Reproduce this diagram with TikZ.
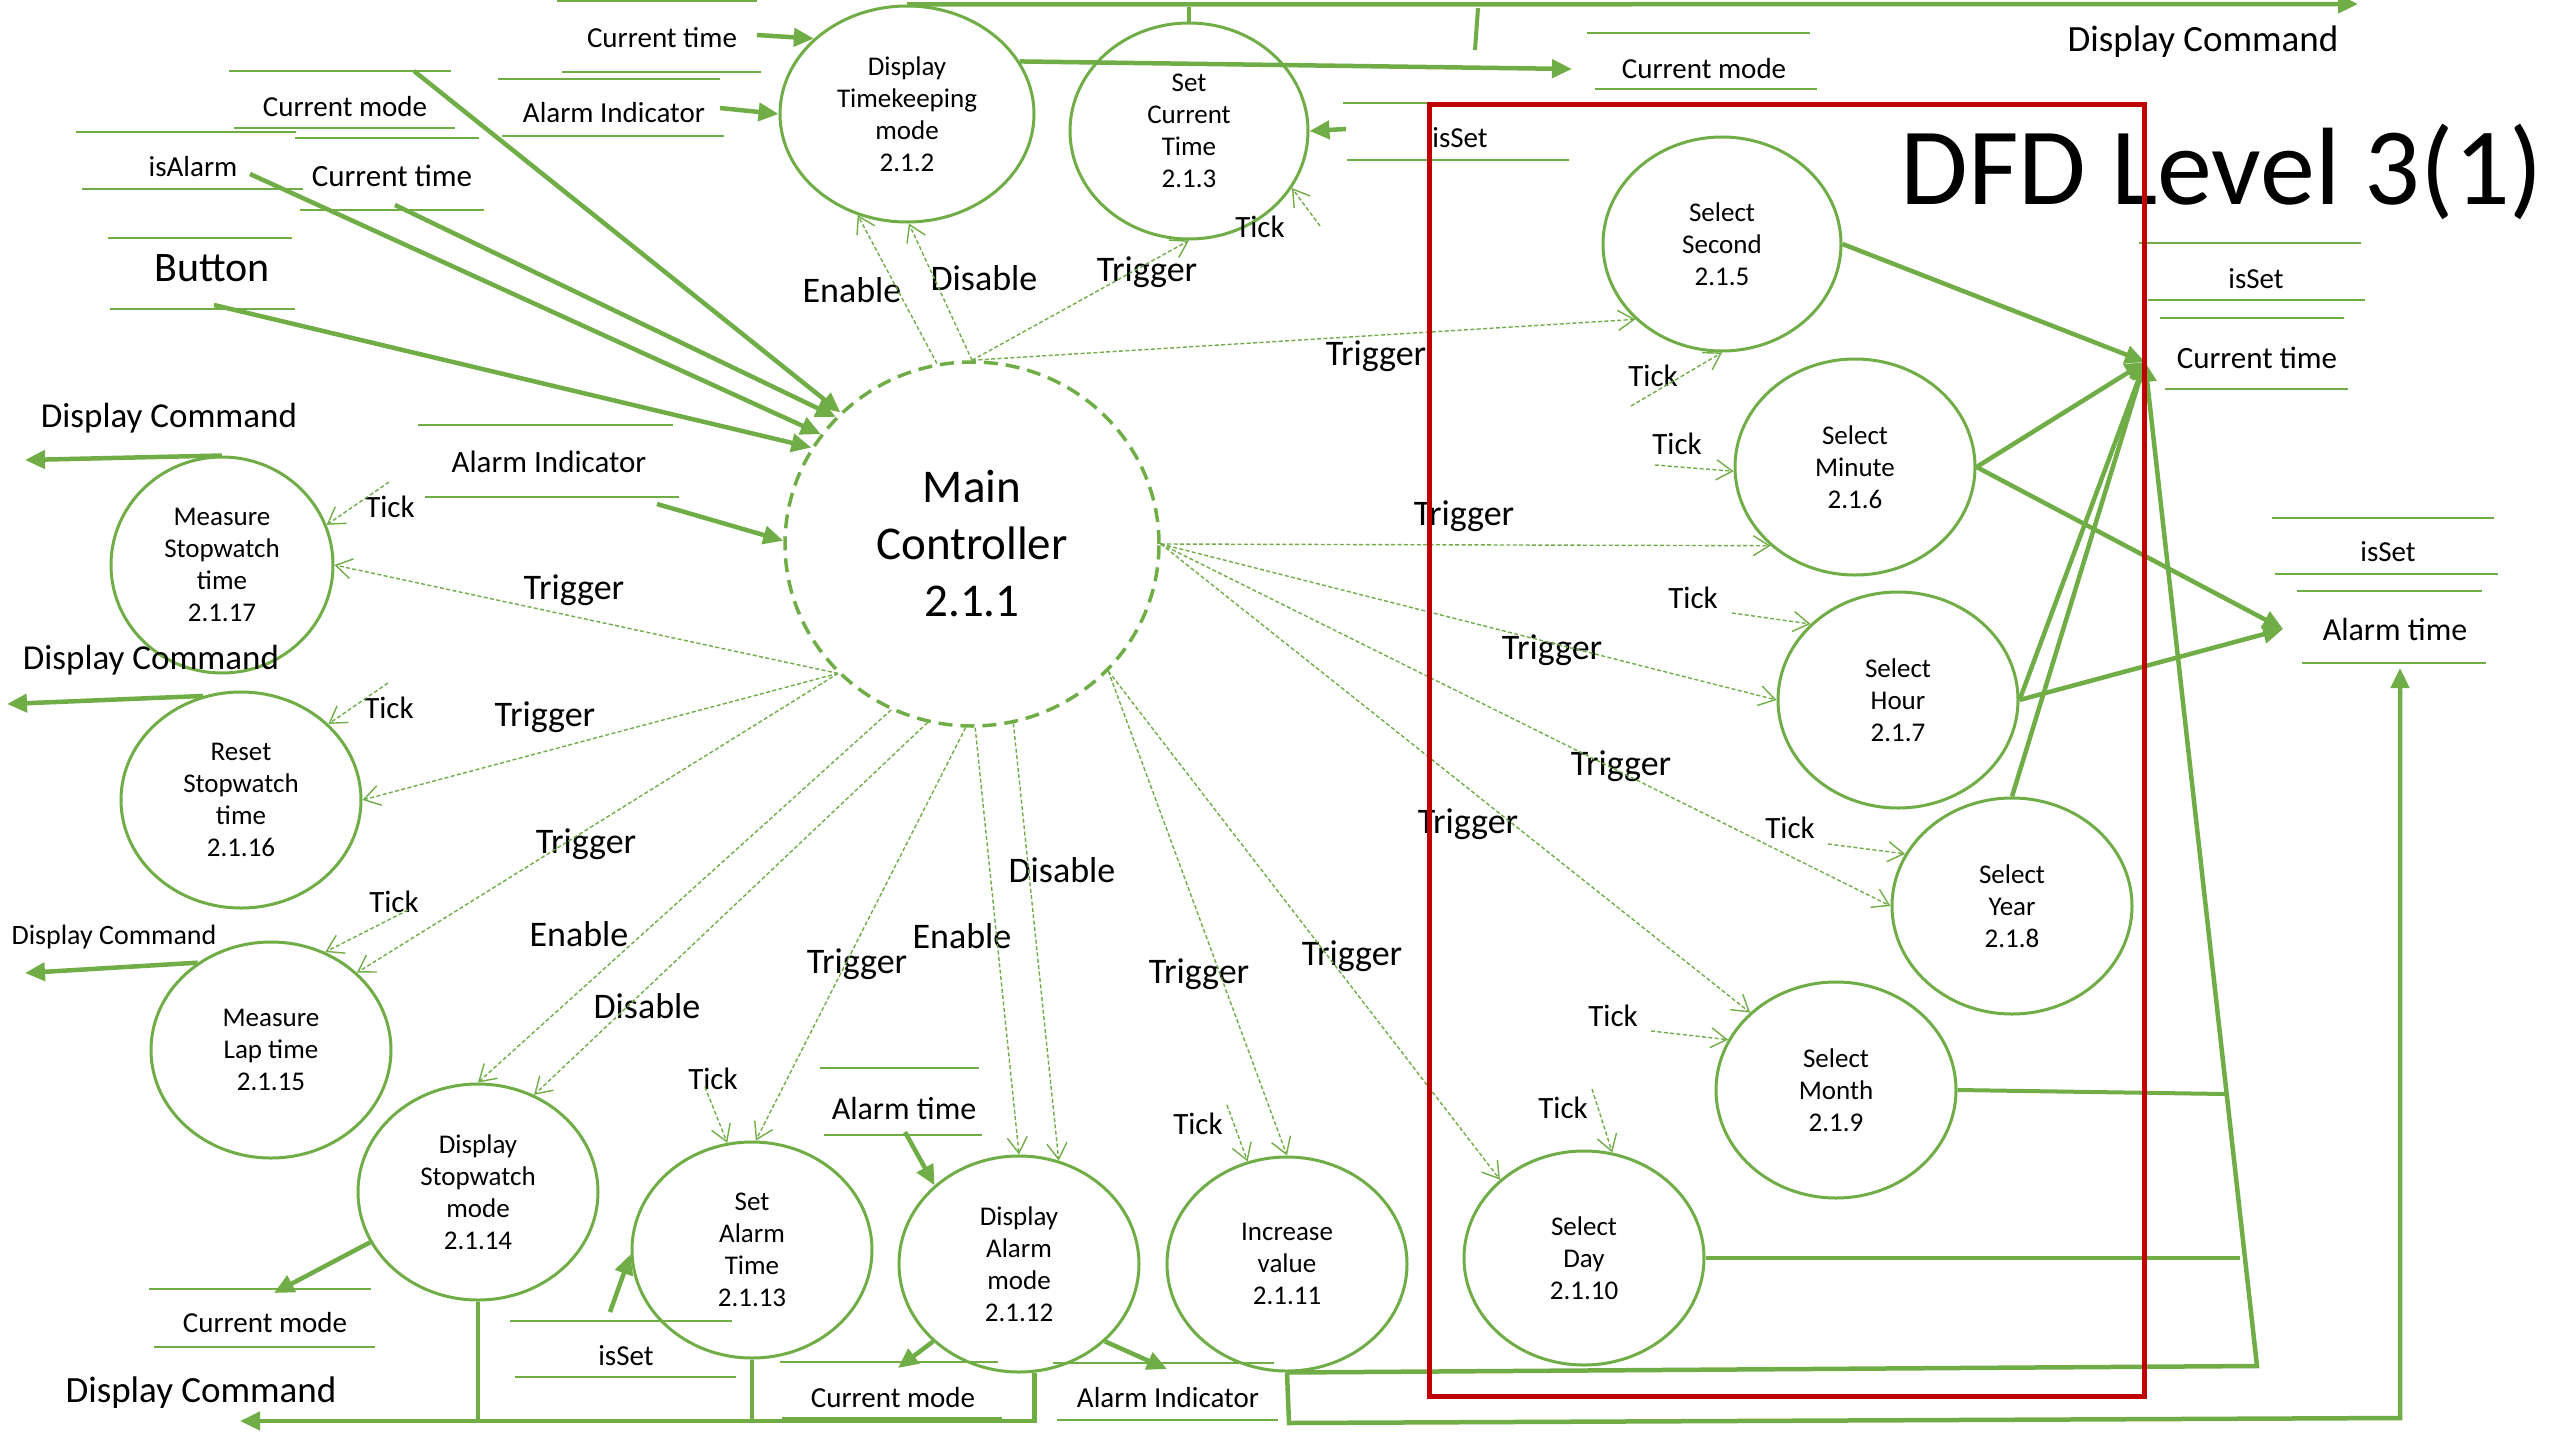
\documentclass[tikz,border=0pt]{standalone}
\usepackage{fontspec}
\setmainfont{Carlito}
\usetikzlibrary{shapes.geometric,arrows.meta}
\definecolor{dg}{HTML}{70AD47}
\definecolor{dred}{HTML}{C00000}
\begin{document}
\begin{tikzpicture}[x=0.5pt,y=-0.5pt,
  proc/.style={ellipse, draw=dg, line width=1.5pt, inner sep=0pt, align=center,
    font=\fontsize{13.5}{16}\selectfont, minimum width=120pt, minimum height=108pt},
  flow/.style={draw=dg, line width=2.25pt, -{Triangle[length=10pt,width=9pt]}},
  bare/.style={draw=dg, line width=2pt},
  ctrl/.style={draw=dg, line width=0.7pt, dash pattern=on 2pt off 1.2pt,
    -{Straight Barb[length=8pt,width=10pt,line width=0.7pt]}},
  store/.style={draw=dg, line width=1.1pt},
  lbl/.style={inner sep=0pt, font=\fontsize{14.5}{17}\selectfont},
  lblb/.style={inner sep=0pt, font=\fontsize{15.5}{18}\selectfont},
  trg/.style={inner sep=0pt, font=\fontsize{18}{21}\selectfont},
  cmd/.style={inner sep=0pt, font=\fontsize{17.5}{21}\selectfont}]
\useasboundingbox[fill=white] (0,0) rectangle (2560,1440);

% ---------- processes ----------
\node[proc, minimum width=127pt] (e212) at (907,114) {Display\\Timekeeping\\mode\\2.1.2};
\node[proc, minimum width=119pt] (e213) at (1189,131) {Set\\Current\\Time\\2.1.3};
\node[proc, minimum width=187pt, minimum height=182pt, line width=1.75pt,
      dash pattern=on 7pt off 4pt, font=\fontsize{23.5}{28.5}\selectfont] (main) at (972,544) {Main\\Controller\\2.1.1};
\node[proc, minimum width=119pt, minimum height=107pt] (e215) at (1722,244) {Select\\Second\\2.1.5};
\node[proc] (e216) at (1855,467) {Select\\Minute\\2.1.6};
\node[proc] (e217) at (1898,700) {Select\\Hour\\2.1.7};
\node[proc] (e218) at (2012,906) {Select\\Year\\2.1.8};
\node[proc] (e219) at (1836,1090) {Select\\Month\\2.1.9};
\node[proc, minimum height=107pt] (e2110) at (1584,1258) {Select\\Day\\2.1.10};
\node[proc, minimum height=107pt] (e2111) at (1287,1264) {Increase\\value\\2.1.11};
\node[proc] (e2112) at (1019,1264) {Display\\Alarm\\mode\\2.1.12};
\node[proc] (e2113) at (752,1250) {Set\\Alarm\\Time\\2.1.13};
\node[proc] (e2114) at (478,1192) {Display\\Stopwatch\\mode\\2.1.14};
\node[proc] (e2115) at (271,1050) {Measure\\Lap time\\2.1.15};
\node[proc] (e2116) at (241,800) {Reset\\Stopwatch\\time\\2.1.16};
\node[proc, minimum width=111pt] (e2117) at (222,565) {Measure\\Stopwatch\\time\\2.1.17};

% ---------- labels ----------
\node[lbl] (l1) at (662,38) {Current time};
\node[lbl] (l2) at (614,113) {Alarm Indicator};
\node[lbl] (l3) at (345,107) {Current mode};
\node[lbl] (l4) at (193,167) {isAlarm};
\node[lblb] (l5) at (392,176) {Current time};
\node[inner sep=0pt, font=\fontsize{21}{25}\selectfont] (l6) at (212,268) {Button};
\node[cmd] (l7) at (169,418) {Display Command};
\node[lblb] (l8) at (549,462) {Alarm Indicator};
\node[lblb] (l9) at (390,507) {Tick};
\node[trg] (l10) at (574,590) {Trigger};
\node[cmd] (l11) at (151,660) {Display Command};
\node[lblb] (l12) at (389,708) {Tick};
\node[trg] (l13) at (545,717) {Trigger};
\node[inner sep=0pt, font=\fontsize{14}{17}\selectfont] (l14) at (114,937) {Display Command};
\node[lblb] (l15) at (394,902) {Tick};
\node[trg] (l16) at (586,844) {Trigger};
\node[trg] (l17) at (579,934) {Enable};
\node[trg] (l18) at (647,1006) {Disable};
\node[trg] (l19) at (857,964) {Trigger};
\node[trg] (l20) at (962,936) {Enable};
\node[trg] (l21) at (1062,870) {Disable};
\node[lblb] (l22) at (713,1079) {Tick};
\node[inner sep=0pt, font=\fontsize{16}{19}\selectfont] (l23) at (904,1108) {Alarm time};
\node[lblb] (l24) at (1198,1124) {Tick};
\node[trg] (l25) at (1199,974) {Trigger};
\node[trg] (l26) at (1352,956) {Trigger};
\node[lbl] (l27) at (265,1323) {Current mode};
\node[lbl] (l28) at (626,1356) {isSet};
\node[inner sep=0pt, font=\fontsize{18.5}{22}\selectfont] (l29) at (201,1393) {Display Command};
\node[lbl] (l30) at (893,1398) {Current mode};
\node[lbl] (l31) at (1168,1398) {Alarm Indicator};
\node[trg] (l32) at (852,290) {Enable};
\node[trg] (l33) at (984,278) {Disable};
\node[trg] (l34) at (1147,272) {Trigger};
\node[lblb] (l35) at (1260,227) {Tick};
\node[lbl] (l36) at (1460,138) {isSet};
\node[lbl] (l37) at (1704,69) {Current mode};
\node[inner sep=0pt, font=\fontsize{18.5}{22}\selectfont] (l38) at (2203,42) {Display Command};
\node[anchor=base west, inner sep=0pt, font=\fontsize{55}{66}\selectfont] (title) at (1900,204) {DFD Level 3(1)};
\node[trg] (l39) at (1376,356) {Trigger};
\node[lblb] (l40) at (1653,376) {Tick};
\node[lblb] (l41) at (1677,444) {Tick};
\node[trg] (l42) at (1464,516) {Trigger};
\node[lblb] (l43) at (1693,598) {Tick};
\node[trg] (l44) at (1552,650) {Trigger};
\node[lblb] (l45) at (1790,828) {Tick};
\node[trg] (l46) at (1621,766) {Trigger};
\node[trg] (l47) at (1468,824) {Trigger};
\node[lblb] (l48) at (1613,1016) {Tick};
\node[lblb] (l49) at (1563,1108) {Tick};
\node[lbl] (l50) at (2256,279) {isSet};
\node[lblb] (l51) at (2257,358) {Current time};
\node[lbl] (l52) at (2388,552) {isSet};
\node[inner sep=0pt, font=\fontsize{16}{19}\selectfont] (l53) at (2395,630) {Alarm time};

% ---------- store lines ----------
\draw[store] (557,1) -- (757,1);
\draw[store] (562,72) -- (761,72);
\draw[store] (498,79) -- (720,79);
\draw[store] (502,136) -- (724,136);
\draw[store] (229,71) -- (451,71);
\draw[store] (234,128) -- (455,128);
\draw[store] (76,132) -- (296,132);
\draw[store] (295,138) -- (479,138);
\draw[store] (82,189) -- (303,189);
\draw[store] (300,210) -- (484,210);
\draw[store] (108,238) -- (292,238);
\draw[store] (110,309) -- (295,309);
\draw[store] (418,425) -- (673,425);
\draw[store] (425,497) -- (679,497);
\draw[store] (1343,103) -- (1428,103);
\draw[store] (1347,160) -- (1569,160);
\draw[store] (1587,33) -- (1810,33);
\draw[store] (1595,89) -- (1817,89);
\draw[store] (2139,243) -- (2361,243);
\draw[store] (2148,300) -- (2365,300);
\draw[store] (2160,318) -- (2344,318);
\draw[store] (2165,389) -- (2348,389);
\draw[store] (2272,518) -- (2494,518);
\draw[store] (2275,574) -- (2498,574);
\draw[store] (2297,591) -- (2482,591);
\draw[store] (2302,663) -- (2486,663);
\draw[store] (820,1068) -- (979,1068);
\draw[store] (824,1135) -- (982,1135);
\draw[store] (149,1289) -- (371,1289);
\draw[store] (154,1347) -- (375,1347);
\draw[store] (510,1321) -- (732,1321);
\draw[store] (515,1377) -- (736,1377);
\draw[store] (780,1362) -- (998,1362);
\draw[store] (782,1418) -- (1002,1418);
\draw[store] (1053,1363) -- (1274,1363);
\draw[store] (1057,1420) -- (1278,1420);

% ---------- free ends ----------
\coordinate (f1) at (414,71);
\coordinate (f2) at (250,174);
\coordinate (f3) at (395,205);
\coordinate (f4) at (214,305);
\coordinate (f5) at (657,504);
\coordinate (f6) at (757,35);
\coordinate (f7) at (720,108);
\coordinate (f8) at (1572,69);
\coordinate (f9) at (2358,4);
\coordinate (f10) at (1189,7);
\coordinate (f11a) at (1478,8);
\coordinate (f11b) at (1475,50);
\coordinate (f12) at (1346,129);
\coordinate (f13) at (25,460);
\coordinate (f14) at (7,704);
\coordinate (f15) at (25,973);
\coordinate (f16) at (274,1293);
\coordinate (f17) at (610,1312);
\coordinate (f18) at (905,1132);
\coordinate (f19) at (898,1368);
\coordinate (f20) at (1167,1369);
\coordinate (f21) at (240,1421);
\coordinate (g1) at (1289,1423);
\coordinate (g2) at (2400,1418);
\coordinate (g3) at (2400,668);
\coordinate (h1) at (2257,1366);
\coordinate (ct) at (2145,362);
\coordinate (at) at (2283,629);
\coordinate (m1) at (2225,1094);
\coordinate (d1) at (2240,1258);

% ---------- data flows ----------
\draw[flow] (f1) -- (main.135);
\draw[flow] (f3) -- (main.137);
\draw[flow] (f2) -- (main.144);
\draw[flow] (f4) -- (main.149);
\draw[flow] (f5) -- (main.179);
\draw[flow] (f6) -- (e212.141);
\draw[flow] (f7) -- (e212.180);
\draw[flow] (e212.25) -- (f8);
\draw[flow] (e212.north) -- (f9);
\draw[bare] (e213.north) -- (f10);
\draw[bare] (f11a) -- (f11b);
\draw[flow] (f12) -- (e213.east);
\draw[flow] (e2117.north) -- (f13);
\draw[flow] (e2116.110) -- (f14);
\draw[flow] (e2115.130) -- (f15);
\draw[flow] (e2114.205) -- (f16);
\draw[flow] (f17) -- (e2113.182);
\draw[flow] (f18) -- (e2112.137);
\draw[flow] (e2112.222) -- (f19);
\draw[flow] (e2112.318) -- (f20);
\draw[flow] (e2112.278) |- (f21);
\draw[bare] (e2114.south) -- (e2114.south |- f21);
\draw[bare] (e2113.south) -- (e2113.south |- f21);
\draw[flow] (e2111.south) -- (g1) -- (g2) -- (g3);
\draw[flow] (e2111.south) -- (h1) -- (ct);
\draw[flow] (e215.east) -- (ct);
\draw[flow] (e216.east) -- (ct);
\draw[flow] (e216.east) -- (at);
\draw[flow] (e217.east) -- (ct);
\draw[flow] (e217.east) -- (at);
\draw[flow] (e218.north) -- (ct);
\draw[bare] (e219.east) -- (m1);
\draw[bare] (e2110.east) -- (d1);

% ---------- control flows ----------
\draw[ctrl] (main.224) -- (e2117.east);
\draw[ctrl] (main.224) -- (e2116.east);
\draw[ctrl] (main.224) -- (e2115.42);
\draw[ctrl] (main.244) -- (e2114.north);
\draw[ctrl] (main.256) -- (e2114.60);
\draw[ctrl] (main.268) -- (e2113.88);
\draw[ctrl] (main.271) -- (e2112.north);
\draw[ctrl] (main.283) -- (e2112.69);
\draw[ctrl] (main.317) -- (e2111.north);
\draw[ctrl] (main.317) -- (e2110.137);
\draw[ctrl] (main.0) -- (e216.223);
\draw[ctrl] (main.0) -- (e217.180);
\draw[ctrl] (main.0) -- (e218.180);
\draw[ctrl] (main.0) -- (e219.138);
\draw[ctrl] (main.90) -- (e215.221);
\draw[ctrl] (main.90) -- (e213.south);
\draw[ctrl] (main.90) -- (e212.271);
\draw[ctrl] (main.101) -- (e212.244);

% ---------- ticks ----------
\coordinate (t1) at (1320,226);
\coordinate (t2) at (1631,406);
\coordinate (t3) at (1655,465);
\coordinate (t4) at (1732,613);
\coordinate (t5) at (1828,844);
\coordinate (t6) at (1651,1031);
\coordinate (t7) at (1592,1089);
\coordinate (t8) at (1227,1105);
\coordinate (t9) at (705,1087);
\coordinate (t10) at (408,910);
\coordinate (t11) at (388,683);
\coordinate (t12) at (389,482);
\draw[ctrl] (t1) -- (e213.331);
\draw[ctrl] (t2) -- (e215.south);
\draw[ctrl] (t3) -- (e216.182);
\draw[ctrl] (t4) -- (e217.139);
\draw[ctrl] (t5) -- (e218.154);
\draw[ctrl] (t6) -- (e219.155);
\draw[ctrl] (t7) -- (e2110.75);
\draw[ctrl] (t8) -- (e2111.111);
\draw[ctrl] (t9) -- (e2113.103);
\draw[ctrl] (t10) -- (e2115.61);
\draw[ctrl] (t11) -- (e2116.41);
\draw[ctrl] (t12) -- (e2117.21);

% ---------- red frame ----------
\draw[dred, line width=2.5pt] (1429,104) rectangle (2144,1396);
\end{tikzpicture}
\end{document}
